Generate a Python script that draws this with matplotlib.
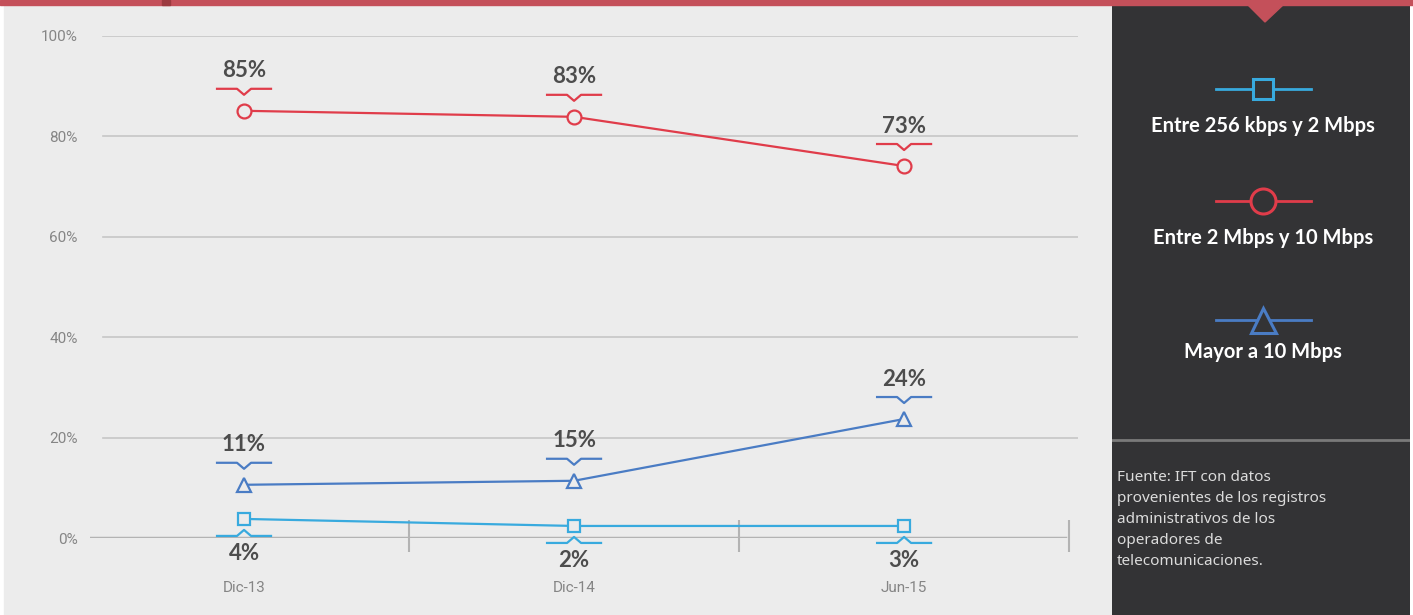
import matplotlib.pyplot as plt
from matplotlib.patches import Rectangle, Polygon
from matplotlib.lines import Line2D

# data
periods = ["Dic-13", "Dic-14", "Jun-15"]
series_names = ["Entre 256 kbps y 2 Mbps", "Entre 2 Mbps y 10 Mbps", "Mayor a 10 Mbps"]
low_speed = [3.8, 2.4, 2.4]
mid_speed = [85.1, 83.9, 74.1]
high_speed = [10.6, 11.4, 23.7]
low_labels = ["4%", "2%", "3%"]
mid_labels = ["85%", "83%", "73%"]
high_labels = ["11%", "15%", "24%"]
y_ticks = [0, 20, 40, 60, 80, 100]
y_tick_labels = ["0%", "20%", "40%", "60%", "80%", "100%"]
source_note = ("Fuente: IFT con datos\nprovenientes de los registros\n"
               "administrativos de los\noperadores de\ntelecomunicaciones.")

W, H = 1413, 615
RED = "#e03c4a"
BLUE = "#4a7cc4"
CYAN = "#38aade"
TXT = "#4d4d4d"
LIGHT = "#858585"
PANEL = "#333335"


def box(x, y, w, h):
    # pixel box measured from the top-left corner -> figure fraction
    return [x / W, 1 - (y + h) / H, w / W, h / H]


fig = plt.figure(figsize=(W / 100, H / 100), dpi=100, facecolor="white")

# background pieces
fig.patches.append(Rectangle((4 / W, 0), (1112 - 4) / W, (H - 6) / H,
                             transform=fig.transFigure, color="#ececec", zorder=-5))
fig.patches.append(Rectangle((0, 1 - 5 / H), 1, 5 / H,
                             transform=fig.transFigure, color="#c4505a", zorder=5))
fig.patches.append(Rectangle((162 / W, 1 - 5 / H), 8 / W, 5 / H,
                             transform=fig.transFigure, color="#9c3a40", zorder=6))

# main chart
ax = fig.add_axes(box(90, 36, 988, 502))
ax.set_facecolor("none")
ax.set_xlim(-0.4667, 2.527)
ax.set_ylim(0, 100)
for s in ax.spines.values():
    s.set_visible(False)

for t in y_ticks[1:]:
    ax.axhline(t, xmin=0.013, xmax=1, color="#c6c6c6", lw=1.2, zorder=1)
ax.axhline(0, xmin=0, xmax=0.987, color="#b3b3b3", lw=2.5, zorder=1)
x = list(range(len(periods)))
ax.vlines([i + 0.5 for i in x], -2.8, 3.6, color="#b3b3b3", lw=1.5, zorder=1, clip_on=False)

ax.set_yticks(y_ticks, y_tick_labels)
ax.set_xticks(x, periods)
ax.tick_params(axis="y", length=0, pad=9, labelsize=11, labelcolor=LIGHT)
ax.tick_params(axis="x", length=0, pad=31, labelsize=11, labelcolor=LIGHT)
for lab in ax.get_xticklabels() + ax.get_yticklabels():
    lab.set_family("Roboto")

series = [
    (low_speed, low_labels, CYAN, "s", 9, False),
    (mid_speed, mid_labels, RED, "o", 10, True),
    (high_speed, high_labels, BLUE, "^", 10, True),
]
for vals, labels, col, mk, ms, above in series:
    ax.plot(x, vals, color=col, lw=1.6, marker=mk, ms=ms, mfc="#ececec",
            mec=col, mew=1.6, zorder=3, clip_on=False)

# value labels with the small bracket pointing at the point
for vals, labels, col, mk, ms, above in series:
    for xi, v, lab in zip(x, vals, labels):
        cx, cy = ax.transData.transform((xi, v))
        if above:
            yb = cy + 22
            tip = yb - 6
            ty = yb + 18
        else:
            yb = cy - 17
            tip = yb + 6
            ty = yb - 18
        xs = [cx - 27, cx - 7, cx, cx + 7, cx + 27]
        ys = [yb, yb, tip, yb, yb]
        fig.add_artist(Line2D([a / W for a in xs], [b / H for b in ys],
                              color=col, lw=1.6, transform=fig.transFigure))
        fig.text(cx / W, ty / H, lab, ha="center", va="center", fontsize=16,
                 fontweight="bold", color=TXT, family="Lato")

# legend panel on the right
pax = fig.add_axes(box(1112, 5, 298, 610))
pax.set_facecolor(PANEL)
pax.set_xlim(1112, 1410)
pax.set_ylim(615, 5)
pax.set_xticks([])
pax.set_yticks([])
for s in pax.spines.values():
    s.set_visible(False)

pax.add_patch(Polygon([(1248, 5), (1283, 5), (1265, 22)], closed=True,
                      color="#c4505a", clip_on=False))

legend_rows = [(89, 126), (201, 238), (320, 352)]
legend_ms = [15, 18, 18]
for (vals, labels, col, mk, ms, above), name, (ly, ty), lms in zip(series, series_names, legend_rows, legend_ms):
    pax.plot([1216, 1311], [ly, ly], color=col, lw=2)
    pax.plot([1263], [ly], marker=mk, ms=lms, mfc=PANEL, mec=col, mew=2.2)
    pax.text(1263, ty, name, ha="center", va="center", color="white",
             fontsize=14.5, fontweight="bold", family="Lato")

pax.plot([1112, 1410], [440, 440], color="#7a7a7a", lw=2)
pax.text(1117, 470, source_note, ha="left", va="top", color="#dcdcdc",
         fontsize=11, family="Noto Sans", linespacing=1.55)

fig.savefig("out.png", dpi=100, facecolor="white")
